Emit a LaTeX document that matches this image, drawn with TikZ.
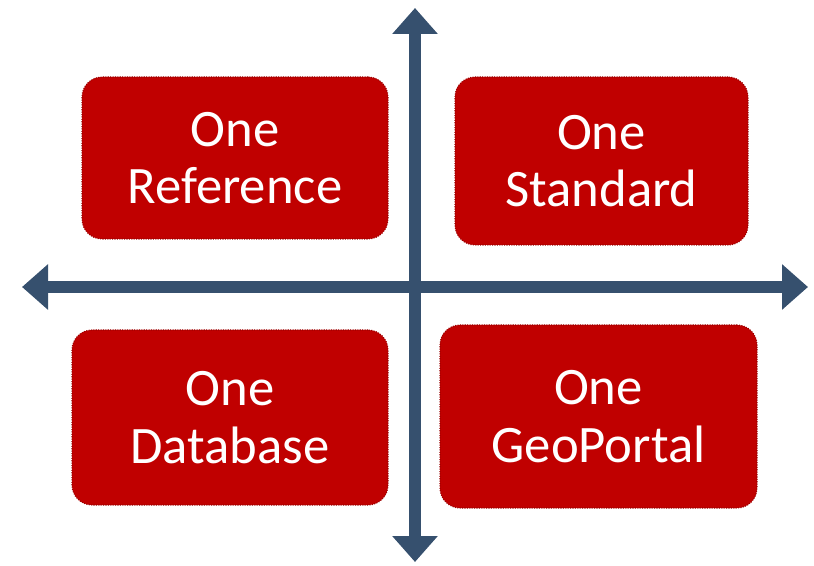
\documentclass[tikz,border=0pt]{standalone}
\usepackage{fontspec}
\setmainfont{Carlito}
\usetikzlibrary{positioning, arrows.meta}
\definecolor{onered}{HTML}{C00000}
\definecolor{oneredline}{HTML}{9A0000}
\definecolor{axisblue}{HTML}{36506E}
\begin{document}
\begin{tikzpicture}[x=0.75pt, y=-0.75pt,
    onebox/.style={draw=oneredline, densely dotted, line width=0.8pt, fill=onered,
      rounded corners=15pt, text=white, align=center,
      font=\fontsize{39.5pt}{43pt}\selectfont, inner sep=0pt},
    axis/.style={draw=axisblue, line width=9pt,
      -{Triangle[width=33pt, length=19.5pt]}}]
    \useasboundingbox (0,0) rectangle (814,566);
    % vier kotak
    \node[onebox, minimum width=229.5pt, minimum height=121.5pt] (ref) at (235,158) {One\\Reference};
    \node[onebox, minimum width=219.75pt, minimum height=126pt] (std) at (601.5,161) {One\\Standard};
    \node[onebox, minimum width=237pt, minimum height=131.25pt] (db) at (230,417.5) {One\\Database};
    \node[onebox, minimum width=237.75pt, minimum height=137.25pt] (geo) at (598.5,416.5) {One\\GeoPortal};
    % sumbu
    \coordinate (top) at (415,8);
    \coordinate (bot) at (415,562);
    \coordinate (lft) at (22,287);
    \coordinate (rgt) at (808,287);
    \coordinate (mid) at (415,287);
    \draw[axis] (mid) -- (top);
    \draw[axis] (mid) -- (bot);
    \draw[axis] (mid) -- (lft);
    \draw[axis] (mid) -- (rgt);
\end{tikzpicture}
\end{document}
